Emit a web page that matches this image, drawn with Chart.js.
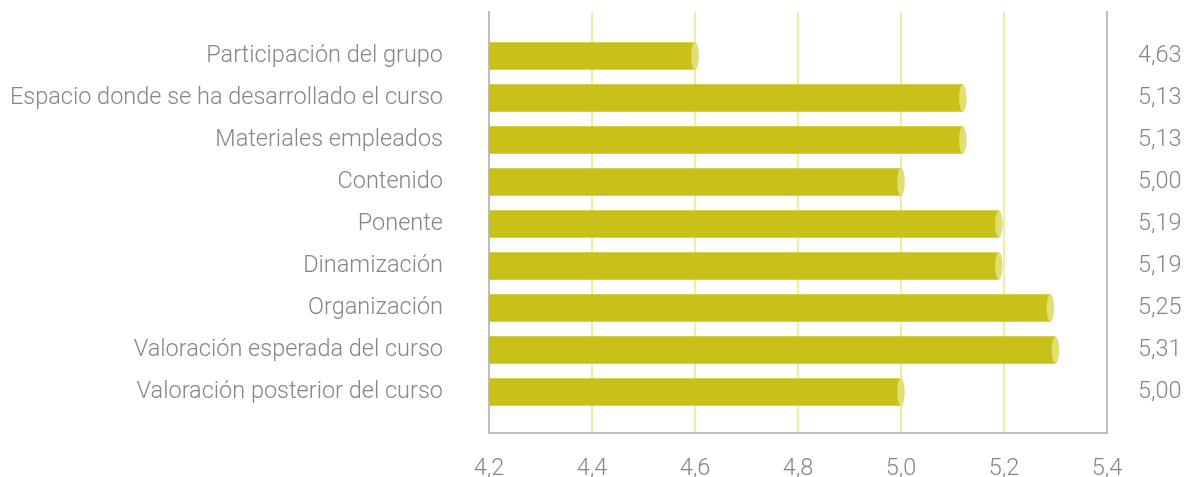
<!DOCTYPE html>
<html>
<head>
<meta charset="utf-8">
<script src="https://cdn.jsdelivr.net/npm/chart.js@4/dist/chart.umd.min.js"></script>
<style>
  html, body { margin: 0; padding: 0; background: #fff; }
  #wrap { width: 1187px; height: 477px; }
</style>
</head>
<body>
<div id="wrap"><canvas id="barchart" width="1187" height="477"></canvas></div>
<script>
// categories, top to bottom
const categories = [
  'Participación del grupo',
  'Espacio donde se ha desarrollado el curso',
  'Materiales empleados',
  'Contenido',
  'Ponente',
  'Dinamización',
  'Organización',
  'Valoración esperada del curso',
  'Valoración posterior del curso'
];
// bar lengths as drawn in the picture
const barValues = [4.60, 5.12, 5.12, 5.00, 5.19, 5.19, 5.29, 5.30, 5.00];
// values printed on the right
const valueLabels = ['4,63', '5,13', '5,13', '5,00', '5,19', '5,19', '5,25', '5,31', '5,00'];
const xTicks = [4.2, 4.4, 4.6, 4.8, 5.0, 5.2, 5.4];

const BAR = '#c9c119';
const CAP = '#e1df6e';
const GRAY = '#bdbdbd';
const PALE = '#efeea6';
const TEXT = '#868686';
const FONT = { family: 'Roboto', size: 23.5, weight: 300 };

const indexTicks = scale => { scale.ticks = categories.map((c, i) => ({ value: i })); };

// rounded left end + light ellipse on the right end, like a cylinder
const cylinderCaps = {
  id: 'cylinderCaps',
  afterDraw(chart) {
    const ctx = chart.ctx;
    chart.getDatasetMeta(0).data.forEach(bar => {
      const ry = bar.height / 2;
      ctx.save();
      ctx.fillStyle = BAR;
      ctx.beginPath();
      ctx.ellipse(bar.base, bar.y, 4, ry, 0, Math.PI / 2, Math.PI * 1.5);
      ctx.fill();
      ctx.fillStyle = CAP;
      ctx.beginPath();
      ctx.ellipse(bar.x, bar.y, 3.8, ry, 0, 0, Math.PI * 2);
      ctx.fill();
      ctx.restore();
    });
  }
};

const yRange = { min: -1.048, max: 8.976, reverse: true, offset: false };

// side axes: fixed width, no extra top/bottom room for labels
const sideFit = w => s => { s.width = w; s.paddingTop = 0; s.paddingBottom = 0; };

new Chart(document.getElementById('barchart').getContext('2d'), {
  type: 'bar',
  data: {
    datasets: [{
      data: barValues.map((v, i) => ({ x: v, y: i })),
      backgroundColor: BAR,
      borderWidth: 0,
      barThickness: 27
    }]
  },
  options: {
    responsive: false,
    animation: false,
    indexAxis: 'y',
    layout: { padding: { top: 12, left: 0, right: 0, bottom: 0 } },
    plugins: { legend: { display: false }, tooltip: { enabled: false } },
    scales: {
      x: {
        type: 'linear',
        min: 4.2,
        max: 5.4,
        afterBuildTicks: s => { s.ticks = xTicks.map(v => ({ value: v })); },
        afterFit: s => { s.height = 44; s.paddingLeft = 0; s.paddingRight = 0; },
        grid: {
          drawTicks: false,
          lineWidth: 2,
          color: c => (c.index === 0 || c.index === xTicks.length - 1) ? GRAY : PALE
        },
        border: { display: true, color: GRAY, width: 2 },
        ticks: {
          padding: 22,
          color: TEXT,
          font: FONT,
          callback: v => v.toFixed(1).replace('.', ',')
        }
      },
      y: {
        type: 'linear',
        position: 'left',
        ...yRange,
        afterBuildTicks: indexTicks,
        afterFit: sideFit(489),
        grid: { display: true, offset: false, drawOnChartArea: false, drawTicks: true, tickLength: 46, tickColor: 'rgba(0,0,0,0)' },
        border: { display: true, color: GRAY, width: 2 },
        ticks: {
          padding: 0,
          color: TEXT,
          font: FONT,
          callback: v => categories[v]
        }
      },
      y2: {
        type: 'linear',
        position: 'right',
        ...yRange,
        afterBuildTicks: indexTicks,
        afterFit: sideFit(80),
        grid: { display: true, offset: false, drawOnChartArea: false, drawTicks: true, tickLength: 31, tickColor: 'rgba(0,0,0,0)' },
        border: { display: true, color: GRAY, width: 2 },
        ticks: {
          padding: 0,
          color: TEXT,
          font: FONT,
          callback: v => valueLabels[v]
        }
      }
    }
  },
  plugins: [cylinderCaps]
});
</script>
</body>
</html>
